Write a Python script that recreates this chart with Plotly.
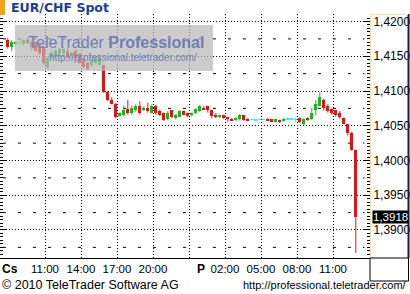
import plotly.graph_objects as go

# ---------------- data ----------------
start_hour = 7.9          # centre of first 20-minute candle (hours since Thursday 00:00)
step_hour = 1 / 3         # 20-minute candles

opens = [1.4174, 1.4163, 1.4167, 1.4170, 1.4167, 1.4174, 1.4164, 1.4170, 1.4166, 1.4163,
         1.4134, 1.4147, 1.4151, 1.4153, 1.4154, 1.4158, 1.4150, 1.4158, 1.4153, 1.4147,
         1.4141, 1.4137, 1.4140, 1.4138, 1.4137, 1.4098, 1.4087, 1.4082, 1.4064, 1.4065,
         1.4074, 1.4069, 1.4072, 1.4079, 1.4072, 1.4075, 1.4069, 1.4078, 1.4071, 1.4068,
         1.4059, 1.4072, 1.4061, 1.4063, 1.4071, 1.4068, 1.4065, 1.4068, 1.4071, 1.4076,
         1.4078, 1.4072, 1.4066, 1.4062, 1.4065, 1.4062, 1.4060, 1.4058, 1.4059, 1.4065,
         1.4060, 1.4059, 1.4058, 1.4059, 1.4059, 1.4060, 1.4059, 1.4056, 1.4058, 1.4057,
         1.4060, 1.4060, 1.4059, 1.4061, 1.4052, 1.4061, 1.4059, 1.4072, 1.4079, 1.4087,
         1.4079, 1.4074, 1.4072, 1.4069, 1.4061, 1.4052, 1.4040, 1.4015]
highs = [1.4176, 1.4173, 1.4171, 1.4172, 1.4174, 1.4177, 1.4173, 1.4172, 1.4168, 1.4164,
         1.4150, 1.4158, 1.4160, 1.4162, 1.4163, 1.4162, 1.4157, 1.4160, 1.4155, 1.4148,
         1.4142, 1.4146, 1.4149, 1.4148, 1.4138, 1.4100, 1.4091, 1.4083, 1.4069, 1.4079,
         1.4087, 1.4079, 1.4081, 1.4085, 1.4078, 1.4083, 1.4081, 1.4080, 1.4073, 1.4069,
         1.4071, 1.4073, 1.4067, 1.4072, 1.4072, 1.4069, 1.4069, 1.4075, 1.4080, 1.4078,
         1.4079, 1.4073, 1.4068, 1.4066, 1.4066, 1.4063, 1.4061, 1.4062, 1.4067, 1.4066,
         1.4061, 1.4060, 1.4059, 1.4060, 1.4060, 1.4061, 1.4060, 1.4060, 1.4059, 1.4061,
         1.4062, 1.4061, 1.4062, 1.4062, 1.4061, 1.4062, 1.4076, 1.4087, 1.4098, 1.4089,
         1.4081, 1.4075, 1.4073, 1.4071, 1.4062, 1.4053, 1.4041, 1.4016]
lows = [1.4161, 1.4157, 1.4166, 1.4167, 1.4166, 1.4168, 1.4158, 1.4157, 1.4152, 1.4138,
        1.4132, 1.4145, 1.4150, 1.4151, 1.4152, 1.4147, 1.4148, 1.4145, 1.4139, 1.4133,
        1.4131, 1.4135, 1.4139, 1.4137, 1.4097, 1.4085, 1.4081, 1.4061, 1.4063, 1.4064,
        1.4066, 1.4066, 1.4070, 1.4066, 1.4071, 1.4069, 1.4068, 1.4066, 1.4064, 1.4057,
        1.4058, 1.4061, 1.4059, 1.4062, 1.4065, 1.4062, 1.4063, 1.4067, 1.4070, 1.4073,
        1.4069, 1.4061, 1.4061, 1.4061, 1.4060, 1.4056, 1.4057, 1.4057, 1.4058, 1.4057,
        1.4057, 1.4058, 1.4057, 1.4058, 1.4058, 1.4057, 1.4055, 1.4055, 1.4054, 1.4056,
        1.4058, 1.4059, 1.4055, 1.4054, 1.4050, 1.4057, 1.4058, 1.4065, 1.4078, 1.4072,
        1.4069, 1.4066, 1.4063, 1.4060, 1.4052, 1.4036, 1.4014, 1.3867]
closes = [1.4163, 1.4170, 1.4170, 1.4170, 1.4173, 1.4169, 1.4170, 1.4158, 1.4154, 1.4140,
          1.4148, 1.4155, 1.4158, 1.4160, 1.4161, 1.4148, 1.4155, 1.4147, 1.4141, 1.4135,
          1.4132, 1.4144, 1.4147, 1.4147, 1.4098, 1.4087, 1.4082, 1.4062, 1.4068, 1.4072,
          1.4068, 1.4076, 1.4079, 1.4068, 1.4076, 1.4071, 1.4079, 1.4068, 1.4065, 1.4058,
          1.4069, 1.4062, 1.4065, 1.4071, 1.4066, 1.4064, 1.4068, 1.4074, 1.4078, 1.4074,
          1.4072, 1.4064, 1.4064, 1.4065, 1.4061, 1.4059, 1.4058, 1.4061, 1.4066, 1.4058,
          1.4058, 1.4059, 1.4058, 1.4059, 1.4059, 1.4058, 1.4056, 1.4059, 1.4055, 1.4060,
          1.4060, 1.4060, 1.4059, 1.4055, 1.4059, 1.4058, 1.4069, 1.4082, 1.4091, 1.4076,
          1.4071, 1.4068, 1.4065, 1.4062, 1.4053, 1.4040, 1.4015, 1.3918]

tick_hours = [11, 14, 17, 20, 23, 26, 29, 32, 35]
tick_labels = ["11:00", "14:00", "17:00", "20:00", "", "02:00", "05:00", "08:00", "11:00"]
day_labels = ["Cs", "P"]
day_hours = [8.1, 24.0]

title_text = "EUR/CHF Spot"
x_range = [7.25, 38.083]
y_range = [1.38597, 1.42108]

# ---------------- styling ----------------
W, H = 410, 294
ML, MR, MT, MB = 0, 40, 14, 36
PW, PH = W - ML - MR, H - MT - MB
SANS = "Liberation Sans, Arial"
WIDE = "DejaVu Sans, Verdana"
UP, DOWN, FLAT = "#1fb41f", "#e01414", "#40e8e8"


def px(xp):
    return (xp - ML) / PW


def py(yp):
    return (H - MB - yp) / PH


times = [start_hour + i * step_hour for i in range(len(opens))]

groups = {"up": ([], UP), "down": ([], DOWN), "flat": ([], FLAT)}
for i, (o, c) in enumerate(zip(opens, closes)):
    if abs(c - o) < 0.00005:
        groups["flat"][0].append(i)
    elif c > o:
        groups["up"][0].append(i)
    else:
        groups["down"][0].append(i)

fig = go.Figure()

# wicks
for name, (idx, col) in groups.items():
    wx, wy = [], []
    for i in idx:
        wx += [times[i], times[i], None]
        wy += [lows[i], highs[i], None]
    fig.add_trace(go.Scatter(x=wx, y=wy, mode="lines", line=dict(color=col, width=1),
                             hoverinfo="skip", showlegend=False))

# bodies
for name, (idx, col) in groups.items():
    bx, base, hgt = [], [], []
    for i in idx:
        lo, hi = min(opens[i], closes[i]), max(opens[i], closes[i])
        if hi - lo < 0.0001:
            mid = (hi + lo) / 2
            lo, hi = mid - 0.00005, mid + 0.00005
        bx.append(times[i])
        base.append(lo)
        hgt.append(hi - lo)
    fig.add_trace(go.Bar(x=bx, y=hgt, base=base, width=0.25, marker=dict(color=col, line=dict(width=0)),
                         hoverinfo="skip", showlegend=False))

shapes = []
# minor dashed level lines (between major gridlines)
lvl = 1.3875
while lvl < y_range[1]:
    shapes.append(dict(type="line", xref="paper", yref="y", x0=0.008, x1=0.985, y0=lvl, y1=lvl,
                       line=dict(color="black", width=1, dash="3px,12px"), layer="below"))
    lvl += 0.005
# watermark box
shapes.append(dict(type="rect", xref="paper", yref="paper", x0=px(15), x1=px(213), y0=py(71), y1=py(25),
                   fillcolor="rgba(185,185,185,0.72)", line=dict(width=0), layer="above"))
# orange marker top-left
shapes.append(dict(type="rect", xref="paper", yref="paper", x0=px(0), x1=px(5), y0=py(15), y1=py(0),
                   fillcolor="#f3a21c", line=dict(width=0)))
# right panel borders
shapes.append(dict(type="line", xref="paper", yref="paper", x0=px(408.5), x1=px(408.5), y0=py(258), y1=py(14),
                   line=dict(color="#0a1f5c", width=2)))
shapes.append(dict(type="line", xref="paper", yref="paper", x0=px(370), x1=px(408), y0=py(14.5), y1=py(14.5),
                   line=dict(color="#f2e6a6", width=1)))
# bottom box under right axis
shapes.append(dict(type="rect", xref="paper", yref="paper", x0=px(370), x1=px(408.5), y0=py(281), y1=py(258),
                   fillcolor="white", line=dict(color="black", width=1)))

annotations = [
    dict(text=f"<b>{title_text}</b>", x=px(9), y=py(7.5), xref="paper", yref="paper", xanchor="left",
         yanchor="middle", showarrow=False, font=dict(family=WIDE, size=12.5, color="#1d3c92")),
    dict(text="TeleTrader <b>Professional</b>", x=px(26), y=py(42), xref="paper", yref="paper",
         xanchor="left", yanchor="middle", showarrow=False, font=dict(family=SANS, size=16, color="#6f7fb3")),
    dict(text="http://professional.teletrader.com/", x=px(47), y=py(58), xref="paper", yref="paper",
         xanchor="left", yanchor="middle", showarrow=False, font=dict(family=SANS, size=10, color="#6f7fb3")),
    dict(text="© 2010 TeleTrader Software AG", x=px(0), y=py(285), xref="paper", yref="paper",
         xanchor="left", yanchor="middle", showarrow=False, font=dict(family=SANS, size=12.5, color="black")),
    dict(text="http://professional.teletrader.com/", x=px(409), y=py(285), xref="paper", yref="paper",
         xanchor="right", yanchor="middle", showarrow=False, font=dict(family=SANS, size=11, color="black")),
    dict(text=f"{closes[-1]:.4f}".replace(".", ","), x=px(371.5), y=closes[-1], xref="paper", yref="y",
         xanchor="left", yanchor="middle", showarrow=False, bgcolor="black", borderpad=0,
         font=dict(family=SANS, size=11.5, color="white")),
]
for lab, hr in zip(day_labels, day_hours):
    annotations.append(dict(text=f"<b>{lab}</b>", x=hr, y=py(268.5), xref="x", yref="paper", xanchor="center",
                            yanchor="middle", showarrow=False, font=dict(family=SANS, size=12, color="black")))

fig.update_layout(
    width=W, height=H, margin=dict(l=ML, r=MR, t=MT, b=MB, pad=0),
    paper_bgcolor="white", plot_bgcolor="white", barmode="overlay", bargap=0,
    separators=", ", showlegend=False, shapes=shapes, annotations=annotations,
    xaxis=dict(range=x_range, tickvals=tick_hours, ticktext=tick_labels, showgrid=True,
               gridcolor="black", griddash="1px,2px", gridwidth=1, zeroline=False,
               showline=True, linecolor="black", linewidth=1, ticks="", ticklen=0,
               tickfont=dict(family=SANS, size=11.5, color="black"), fixedrange=True),
    yaxis=dict(range=y_range, side="right", dtick=0.005, tick0=1.39, tickformat=".4f",
               showgrid=True, gridcolor="black", griddash="1px,2px", gridwidth=1, zeroline=False,
               showline=True, linecolor="#f0e4a0", linewidth=1, mirror="ticks",
               ticks="inside", ticklen=6, tickcolor="black", tickwidth=1,
               minor=dict(dtick=0.0005, ticks="inside", ticklen=3, tickcolor="black", showgrid=False),
               tickfont=dict(family=SANS, size=12, color="black"), fixedrange=True),
)

fig.write_html("out.html")
